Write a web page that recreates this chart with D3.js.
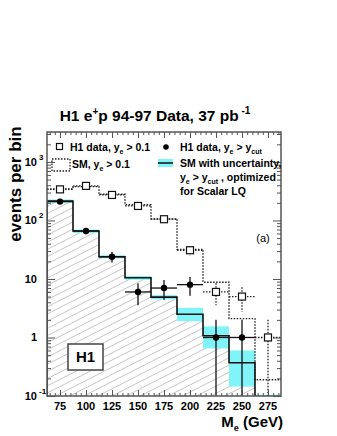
<!DOCTYPE html>
<html>
<head>
<meta charset="utf-8">
<script src="https://cdn.jsdelivr.net/npm/d3@7"></script>
<style>
  body { margin: 0; background: #fff; }
  svg { display: block; font-family: "Liberation Sans", Arial, sans-serif; }
</style>
</head>
<body>
<div id="chart"></div>
<script>
  // bin centres (GeV), 25 GeV wide
  const massBins = [75, 100, 125, 150, 175, 200, 225, 250, 275];
  // H1 data, y_e > 0.1 (open squares)
  const dataAll = [340, 390, 273, 177, 105, 31, 6, 5, 1];
  // SM, y_e > 0.1 (dotted histogram)
  const smAll = [345, 378, 280, 186, 106, 32, 8.8, 2.1, 0.19];
  // H1 data, y_e > y_cut (filled circles)
  const dataCutBins = [75, 100, 125, 150, 175, 200, 225, 250];
  const dataCut = [210, 66, 24, 6, 7, 8, 1, 1];
  // SM optimized for scalar LQ, with uncertainty band
  const smOpt = [215, 66, 24, 10.5, 4.9, 2.5, 1.07, 0.37, 0.08];
  const smLo = [200, 61, 22.5, 9.7, 4.5, 1.9, 0.65, 0.145, 0.05];
  const smHi = [228, 70, 25.5, 11.3, 5.3, 3.2, 1.55, 0.6, 0.105];

  const xTicks = [75, 100, 125, 150, 175, 200, 225, 250, 275];
  const yTicks = [0.1, 1, 10, 100, 1000];
  const yTickLabels = [["10", "-1"], ["1", ""], ["10", ""], ["10", "2"], ["10", "3"]];

  const W = 337, H = 436;
  const L = 47, R = 281, T = 132, B = 396;
  const cyan = "#80f4f8";
  const frame = "#555";

  const svg = d3.select("#chart").append("svg")
    .attr("width", W).attr("height", H);

  const x = d3.scaleLinear().domain([62.5, 287.5]).range([L, R]);
  const y = d3.scaleLog().domain([0.1, 3250]).range([B, T]);
  const half = 12.5;

  const defs = svg.append("defs");
  defs.append("clipPath").attr("id", "plot")
    .append("rect").attr("x", L).attr("y", T).attr("width", R - L).attr("height", B - T);
  const pat = defs.append("pattern").attr("id", "hatch")
    .attr("patternUnits", "userSpaceOnUse")
    .attr("width", 20).attr("height", 6.4)
    .attr("patternTransform", "rotate(-27)");
  pat.append("line").attr("x1", 0).attr("x2", 20).attr("y1", 0.3).attr("y2", 0.3)
    .style("stroke", "#888").style("stroke-width", "0.55px");

  const plot = svg.append("g").attr("clip-path", "url(#plot)");

  // step path helper
  function stepPath(vals) {
    let pts = [];
    massBins.forEach((m, i) => {
      const v = Math.max(vals[i], 0.01);
      pts.push([x(m - half), y(v)]);
      pts.push([x(m + half), y(v)]);
    });
    return pts;
  }

  // hatched area under SM optimized
  const hatchPts = [[x(62.5), y(0.01)]].concat(stepPath(smOpt), [[x(287.5), y(0.01)]]);
  plot.append("path")
    .attr("d", d3.line()(hatchPts) + "Z")
    .style("fill", "url(#hatch)").style("stroke", "none");

  // uncertainty band
  massBins.forEach((m, i) => {
    plot.append("rect")
      .attr("x", x(m - half)).attr("width", x(m + half) - x(m - half))
      .attr("y", y(smHi[i])).attr("height", y(smLo[i]) - y(smHi[i]))
      .style("fill", cyan);
  });

  // SM optimized step line
  const optPts = [[x(62.5), y(0.01)]].concat(stepPath(smOpt));
  plot.append("path")
    .attr("d", d3.line()(optPts))
    .style("fill", "none").style("stroke", "#111").style("stroke-width", "1.6px");

  // SM y_e > 0.1 dotted histogram
  const allPts = stepPath(smAll);
  plot.append("path")
    .attr("d", d3.line()(allPts))
    .style("fill", "none").style("stroke", "#222").style("stroke-width", "1.4px")
    .style("stroke-dasharray", "1.5,1.5");

  // open squares with dotted error bars
  massBins.forEach((m, i) => {
    const v = dataAll[i], e = Math.sqrt(v);
    const lo = Math.max(v - e, 0.01);
    const g = plot.append("g");
    g.append("line").attr("x1", x(m - half)).attr("x2", x(m + half))
      .attr("y1", y(v)).attr("y2", y(v))
      .style("stroke", "#222").style("stroke-width", "1.3px").style("stroke-dasharray", "1.5,1.5");
    g.append("line").attr("x1", x(m)).attr("x2", x(m))
      .attr("y1", y(v + e)).attr("y2", y(lo))
      .style("stroke", "#222").style("stroke-width", "1.3px").style("stroke-dasharray", "1.5,1.5");
    g.append("rect").attr("x", x(m) - 3.5).attr("y", y(v) - 3.5)
      .attr("width", 7).attr("height", 7)
      .style("fill", "#fff").style("stroke", "#111").style("stroke-width", "1.2px");
  });

  // filled circles with error bars
  dataCutBins.forEach((m, i) => {
    const v = dataCut[i], e = Math.sqrt(v);
    const lo = Math.max(v - e, 0.01);
    plot.append("line").attr("x1", x(m - half)).attr("x2", x(m + half))
      .attr("y1", y(v)).attr("y2", y(v))
      .style("stroke", "#111").style("stroke-width", "1.3px");
    plot.append("line").attr("x1", x(m)).attr("x2", x(m))
      .attr("y1", y(v + e)).attr("y2", y(lo))
      .style("stroke", "#111").style("stroke-width", "1.3px");
    plot.append("circle").attr("cx", x(m)).attr("cy", y(v)).attr("r", 3.2)
      .style("fill", "#000");
  });

  // axes (ticks pointing inside)
  const minorX = d3.range(65, 290, 5);
  function tickStyle(g) {
    g.select(".domain").remove();
    g.selectAll("line").style("stroke", frame).style("stroke-width", "1px");
    g.selectAll("text").remove();
  }
  svg.append("g").attr("transform", `translate(0,${B})`)
    .call(d3.axisBottom(x).tickValues(minorX).tickSize(-3)).call(tickStyle);
  svg.append("g").attr("transform", `translate(0,${B})`)
    .call(d3.axisBottom(x).tickValues(xTicks).tickSize(-6)).call(tickStyle);
  svg.append("g").attr("transform", `translate(0,${T})`)
    .call(d3.axisTop(x).tickValues(minorX).tickSize(-3)).call(tickStyle);
  svg.append("g").attr("transform", `translate(0,${T})`)
    .call(d3.axisTop(x).tickValues(xTicks).tickSize(-6)).call(tickStyle);

  const minorY = [];
  [0.1, 1, 10, 100, 1000].forEach(d => {
    for (let k = 2; k <= 9; k++) if (d * k < 3250) minorY.push(d * k);
  });
  svg.append("g").attr("transform", `translate(${L},0)`)
    .call(d3.axisLeft(y).tickValues(minorY).tickSize(-4)).call(tickStyle);
  svg.append("g").attr("transform", `translate(${L},0)`)
    .call(d3.axisLeft(y).tickValues(yTicks).tickSize(-8)).call(tickStyle);
  svg.append("g").attr("transform", `translate(${R},0)`)
    .call(d3.axisRight(y).tickValues(minorY).tickSize(-4)).call(tickStyle);
  svg.append("g").attr("transform", `translate(${R},0)`)
    .call(d3.axisRight(y).tickValues(yTicks).tickSize(-8)).call(tickStyle);

  // frame
  svg.append("rect").attr("x", L).attr("y", T).attr("width", R - L).attr("height", B - T)
    .style("fill", "none").style("stroke", frame).style("stroke-width", "1.5px");

  // tick labels
  xTicks.forEach(t => {
    svg.append("text").attr("x", x(t)).attr("y", B + 14)
      .attr("text-anchor", "middle")
      .style("font-size", "11px").style("font-weight", "bold")
      .text(t);
  });
  yTicks.forEach((t, i) => {
    const [base, ex] = yTickLabels[i];
    svg.append("text").attr("x", 37).attr("y", y(t) + 4)
      .attr("text-anchor", "end")
      .style("font-size", "11px").style("font-weight", "bold")
      .text(base);
    if (ex) {
      svg.append("text").attr("x", 39).attr("y", y(t) - 2)
        .style("font-size", "8px").style("font-weight", "bold")
        .text(ex);
    }
  });

  // axis titles
  svg.append("text")
    .attr("transform", "translate(21,184) rotate(-90)")
    .attr("text-anchor", "middle")
    .style("font-size", "17px").style("font-weight", "bold")
    .text("events per bin");

  const xt = svg.append("text").attr("x", 283).attr("y", 427)
    .attr("text-anchor", "end")
    .style("font-size", "15px").style("font-weight", "bold");
  xt.append("tspan").text("M");
  xt.append("tspan").attr("dy", 4).style("font-size", "9px").text("e");
  xt.append("tspan").attr("dy", -4).text(" (GeV)");

  // title
  const tt = svg.append("text").attr("x", 155).attr("y", 121)
    .attr("text-anchor", "middle")
    .style("font-size", "15.5px").style("font-weight", "bold");
  tt.append("tspan").text("H1 e");
  tt.append("tspan").attr("dy", -6).style("font-size", "10px").text("+");
  tt.append("tspan").attr("dy", 6).text("p 94-97 Data, 37 pb");
  tt.append("tspan").attr("dy", -7).style("font-size", "10px").text(" -1");

  // legend: parts are plain strings or ["sub", text]
  function legText(xp, yp, parts) {
    const t = svg.append("text").attr("x", xp).attr("y", yp)
      .style("font-size", "10.5px").style("font-weight", "bold");
    let shifted = 0;
    parts.forEach(p => {
      if (Array.isArray(p)) {
        t.append("tspan").attr("dy", 2.5 - shifted).style("font-size", "7px").text(p[1]);
        shifted = 2.5;
      } else {
        t.append("tspan").attr("dy", -shifted).text(p);
        shifted = 0;
      }
    });
  }
  svg.append("rect").attr("x", 56.5).attr("y", 143.5).attr("width", 6).attr("height", 6)
    .style("fill", "#fff").style("stroke", "#111").style("stroke-width", "1.2px");
  legText(70, 151, ["H1 data, y", ["sub", "e"], " > 0.1"]);

  svg.append("rect").attr("x", 52).attr("y", 159).attr("width", 18).attr("height", 12)
    .style("fill", "none").style("stroke", "#222").style("stroke-width", "1.3px")
    .style("stroke-dasharray", "1.5,1.5");
  legText(72, 168, ["SM, y", ["sub", "e"], " > 0.1"]);

  svg.append("circle").attr("cx", 166).attr("cy", 147).attr("r", 2.8).style("fill", "#000");
  legText(180, 151, ["H1 data, y", ["sub", "e"], " > y", ["sub", "cut"]]);

  svg.append("rect").attr("x", 158).attr("y", 159).attr("width", 15).attr("height", 8)
    .style("fill", cyan);
  svg.append("line").attr("x1", 158).attr("x2", 173).attr("y1", 163).attr("y2", 163)
    .style("stroke", "#111").style("stroke-width", "1.5px");
  legText(180, 167, ["SM with uncertainty,"]);
  legText(180, 181, ["y", ["sub", "e"], " > y", ["sub", "cut"], " , optimized"]);
  legText(180, 195, ["for Scalar LQ"]);

  // (a)
  svg.append("text").attr("x", 263).attr("y", 242)
    .attr("text-anchor", "middle")
    .style("font-size", "11px")
    .text("(a)");

  // H1 box
  svg.append("rect").attr("x", 68).attr("y", 344).attr("width", 35).attr("height", 26)
    .style("fill", "#fff").style("stroke", "#444").style("stroke-width", "1.5px");
  svg.append("text").attr("x", 85.5).attr("y", 362)
    .attr("text-anchor", "middle")
    .style("font-size", "15px").style("font-weight", "bold")
    .text("H1");
</script>
</body>
</html>
